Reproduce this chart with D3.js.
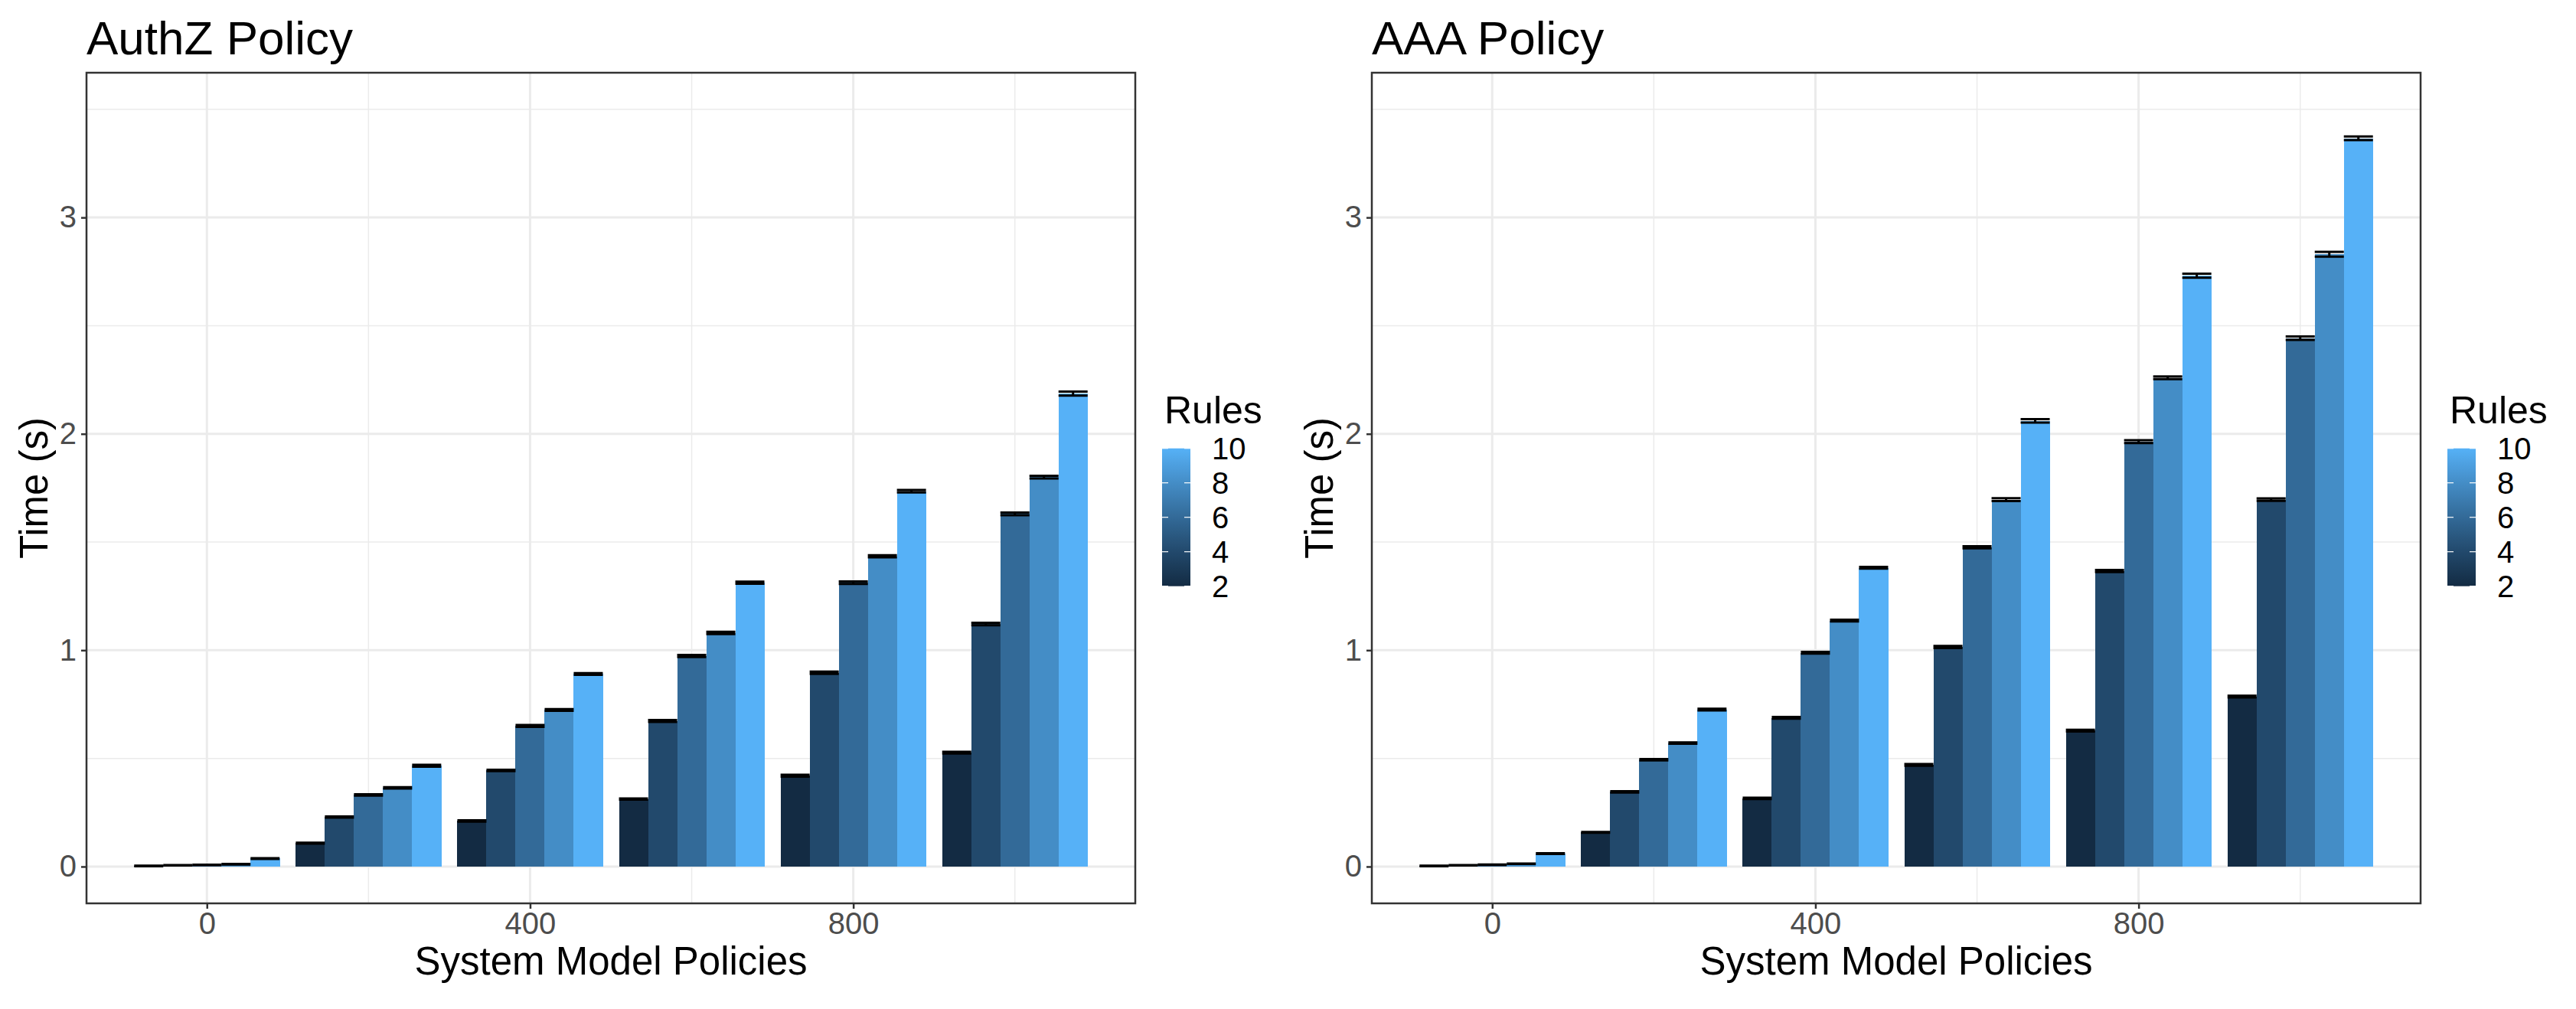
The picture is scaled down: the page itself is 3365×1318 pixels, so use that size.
<!DOCTYPE html>
<html>
<head>
<meta charset="utf-8">
<script src="https://cdn.jsdelivr.net/npm/d3@7"></script>
<style>
  body { margin: 0; background: #fff; }
  svg { display: block; }
</style>
</head>
<body>
<div id="chart"></div>
<script>
// Data: one row per System Model Policies group, one column per Rules value
const groups = [0, 200, 400, 600, 800, 1000];
const rules = [2, 4, 6, 8, 10];

const authzMean = [
  [0.003, 0.006, 0.008, 0.011, 0.037],
  [0.108, 0.229, 0.331, 0.364, 0.466],
  [0.211, 0.444, 0.650, 0.724, 0.890],
  [0.312, 0.673, 0.973, 1.080, 1.312],
  [0.420, 0.896, 1.312, 1.434, 1.735],
  [0.527, 1.121, 1.630, 1.800, 2.186]
];
const authzSe = [
  [0.001, 0.001, 0.001, 0.001, 0.002],
  [0.002, 0.003, 0.003, 0.003, 0.004],
  [0.003, 0.003, 0.004, 0.004, 0.004],
  [0.003, 0.004, 0.005, 0.005, 0.005],
  [0.004, 0.005, 0.006, 0.005, 0.006],
  [0.004, 0.006, 0.006, 0.006, 0.009]
];

const aaaMean = [
  [0.003, 0.006, 0.009, 0.013, 0.060],
  [0.158, 0.345, 0.494, 0.571, 0.726],
  [0.315, 0.688, 0.988, 1.137, 1.381],
  [0.470, 1.015, 1.476, 1.696, 2.060],
  [0.628, 1.366, 1.964, 2.259, 2.731],
  [0.786, 1.696, 2.442, 2.830, 3.366]
];
const aaaSe = [
  [0.001, 0.001, 0.001, 0.001, 0.002],
  [0.002, 0.003, 0.003, 0.003, 0.004],
  [0.003, 0.004, 0.004, 0.004, 0.004],
  [0.004, 0.005, 0.005, 0.007, 0.008],
  [0.004, 0.005, 0.007, 0.006, 0.009],
  [0.004, 0.006, 0.008, 0.011, 0.008]
];

const xMajor = [0, 400, 800];
const xMinor = [200, 600, 1000];
const yMajor = [0, 1, 2, 3];
const yMinor = [0.5, 1.5, 2.5, 3.5];
const legendBreaks = [2, 4, 6, 8, 10];

const CONFIG = {
  width: 3365,
  height: 1318,
  panelOffset: 1679,
  plot: { left: 113, right: 1483, top: 95, bottom: 1180 },
  legendX: 1518,
  xDomain: [-149, 1149],
  yDomain: [-0.170, 3.669],
  groupSpan: 180,
  font: "'Liberation Sans', Arial, Helvetica, sans-serif",
  grid: "#EBEBEB",
  border: "#333333",
  tickText: "#4D4D4D"
};

const color = d3.scaleLinear()
  .domain([2, 10])
  .range(["#132B43", "#56B1F7"])
  .interpolate(d3.interpolateLab);

// flatten group x rule into single bar records
function toBars(means, ses) {
  const out = [];
  groups.forEach((gx, i) => {
    rules.forEach((r, j) => {
      out.push({ group: gx, rule: r, mean: means[i][j], se: ses[i][j] });
    });
  });
  return out;
}

function drawLegend(g, x0) {
  const barX = x0 + CONFIG.legendX;
  const top = 585.7, bottom = 765.7, barW = 37;
  const ly = d3.scaleLinear().domain([2, 10]).range([bottom, top]);

  g.append("text")
    .attr("x", barX + 3)
    .attr("y", 552.7)
    .attr("font-size", 50)
    .attr("fill", "#000")
    .text("Rules");

  const gradId = `rules-grad-${x0}`;
  const grad = g.append("defs").append("linearGradient")
    .attr("id", gradId)
    .attr("x1", "0%").attr("x2", "0%")
    .attr("y1", "100%").attr("y2", "0%");
  grad.selectAll("stop")
    .data(d3.range(0, 1.0001, 0.05))
    .join("stop")
    .attr("offset", d => `${d * 100}%`)
    .attr("stop-color", d => color(2 + d * 8));

  g.append("rect")
    .attr("x", barX).attr("y", top)
    .attr("width", barW).attr("height", bottom - top)
    .attr("fill", `url(#${gradId})`);

  const ticks = g.append("g").attr("stroke", "#fff").attr("stroke-width", 1.2);
  ticks.selectAll("line.l")
    .data(legendBreaks)
    .join("line")
    .attr("class", "l")
    .attr("x1", barX).attr("x2", barX + 8)
    .attr("y1", d => ly(d)).attr("y2", d => ly(d));
  ticks.selectAll("line.r")
    .data(legendBreaks)
    .join("line")
    .attr("class", "r")
    .attr("x1", barX + barW - 8).attr("x2", barX + barW)
    .attr("y1", d => ly(d)).attr("y2", d => ly(d));

  g.selectAll("text.leg-lab")
    .data(legendBreaks)
    .join("text")
    .attr("class", "leg-lab")
    .attr("x", barX + 65)
    .attr("y", d => ly(d))
    .attr("dy", "0.36em")
    .attr("font-size", 40)
    .attr("fill", "#000")
    .text(d => d);
}

function drawPanel(svg, x0, title, means, ses) {
  const P = CONFIG.plot;
  const g = svg.append("g").attr("font-family", CONFIG.font);

  const x = d3.scaleLinear().domain(CONFIG.xDomain).range([x0 + P.left, x0 + P.right]);
  const y = d3.scaleLinear().domain(CONFIG.yDomain).range([P.bottom, P.top]);
  const dodge = d3.scaleBand()
    .domain(rules)
    .range([-CONFIG.groupSpan / 2, CONFIG.groupSpan / 2]);

  // grid, minor then major
  const grid = g.append("g").attr("stroke", CONFIG.grid);
  grid.selectAll("line.ymin").data(yMinor).join("line")
    .attr("class", "ymin")
    .attr("x1", x.range()[0]).attr("x2", x.range()[1])
    .attr("y1", d => y(d)).attr("y2", d => y(d))
    .attr("stroke-width", 1.5);
  grid.selectAll("line.xmin").data(xMinor).join("line")
    .attr("class", "xmin")
    .attr("y1", P.top).attr("y2", P.bottom)
    .attr("x1", d => x(d)).attr("x2", d => x(d))
    .attr("stroke-width", 1.5);
  grid.selectAll("line.ymaj").data(yMajor).join("line")
    .attr("class", "ymaj")
    .attr("x1", x.range()[0]).attr("x2", x.range()[1])
    .attr("y1", d => y(d)).attr("y2", d => y(d))
    .attr("stroke-width", 3);
  grid.selectAll("line.xmaj").data(xMajor).join("line")
    .attr("class", "xmaj")
    .attr("y1", P.top).attr("y2", P.bottom)
    .attr("x1", d => x(d)).attr("x2", d => x(d))
    .attr("stroke-width", 3);

  const clipId = `clip-${x0}`;
  g.append("clipPath").attr("id", clipId)
    .append("rect")
    .attr("x", x0 + P.left).attr("y", P.top)
    .attr("width", P.right - P.left).attr("height", P.bottom - P.top);

  const data = toBars(means, ses);
  const marks = g.append("g").attr("clip-path", `url(#${clipId})`);

  marks.selectAll("rect.bar")
    .data(data)
    .join("rect")
    .attr("class", "bar")
    .attr("shape-rendering", "crispEdges")
    .attr("x", d => x(d.group + dodge(d.rule)))
    .attr("width", d => x(d.group + dodge(d.rule) + dodge.bandwidth()) - x(d.group + dodge(d.rule)) + 0.5)
    .attr("y", d => y(Math.max(0, d.mean)))
    .attr("height", d => Math.abs(y(0) - y(d.mean)))
    .attr("fill", d => color(d.rule));

  marks.selectAll("path.err")
    .data(data)
    .join("path")
    .attr("class", "err")
    .attr("fill", "none")
    .attr("stroke", "#000")
    .attr("stroke-width", 3)
    .attr("d", d => {
      const a = x(d.group + dodge(d.rule));
      const b = x(d.group + dodge(d.rule) + dodge.bandwidth());
      const c = (a + b) / 2;
      const hi = y(d.mean + d.se), lo = y(d.mean - d.se);
      return `M${a},${hi}H${b}M${c},${hi}V${lo}M${a},${lo}H${b}`;
    });

  // panel border
  g.append("rect")
    .attr("x", x0 + P.left).attr("y", P.top)
    .attr("width", P.right - P.left).attr("height", P.bottom - P.top)
    .attr("fill", "none")
    .attr("stroke", CONFIG.border)
    .attr("stroke-width", 2.5);

  const yAxis = g.append("g")
    .attr("transform", `translate(${x0 + P.left},0)`)
    .call(d3.axisLeft(y).tickValues(yMajor).tickSize(7).tickPadding(6).tickFormat(d3.format("d")));
  const xAxis = g.append("g")
    .attr("transform", `translate(0,${P.bottom})`)
    .call(d3.axisBottom(x).tickValues(xMajor).tickSize(7).tickPadding(5).tickFormat(d3.format("d")));

  [yAxis, xAxis].forEach(ax => {
    ax.select(".domain").remove();
    ax.selectAll(".tick line").attr("stroke", CONFIG.border).attr("stroke-width", 2.5);
    ax.selectAll(".tick text")
      .attr("font-family", CONFIG.font)
      .attr("font-size", 40)
      .attr("fill", CONFIG.tickText);
  });

  g.append("text")
    .attr("x", x0 + P.left)
    .attr("y", 70.7)
    .attr("font-size", 62)
    .attr("fill", "#000")
    .text(title);

  g.append("text")
    .attr("x", (x.range()[0] + x.range()[1]) / 2)
    .attr("y", 1273)
    .attr("text-anchor", "middle")
    .attr("font-size", 51)
    .attr("fill", "#000")
    .text("System Model Policies");

  g.append("text")
    .attr("transform", `translate(${x0 + 61.5},${(P.top + P.bottom) / 2}) rotate(-90)`)
    .attr("text-anchor", "middle")
    .attr("font-size", 51)
    .attr("fill", "#000")
    .text("Time (s)");

  drawLegend(g, x0);
}

const svg = d3.select("#chart")
  .append("svg")
  .attr("width", CONFIG.width)
  .attr("height", CONFIG.height);

svg.append("rect")
  .attr("width", CONFIG.width).attr("height", CONFIG.height)
  .attr("fill", "#fff");

drawPanel(svg, 0, "AuthZ Policy", authzMean, authzSe);
drawPanel(svg, CONFIG.panelOffset, "AAA Policy", aaaMean, aaaSe);
</script>
</body>
</html>
